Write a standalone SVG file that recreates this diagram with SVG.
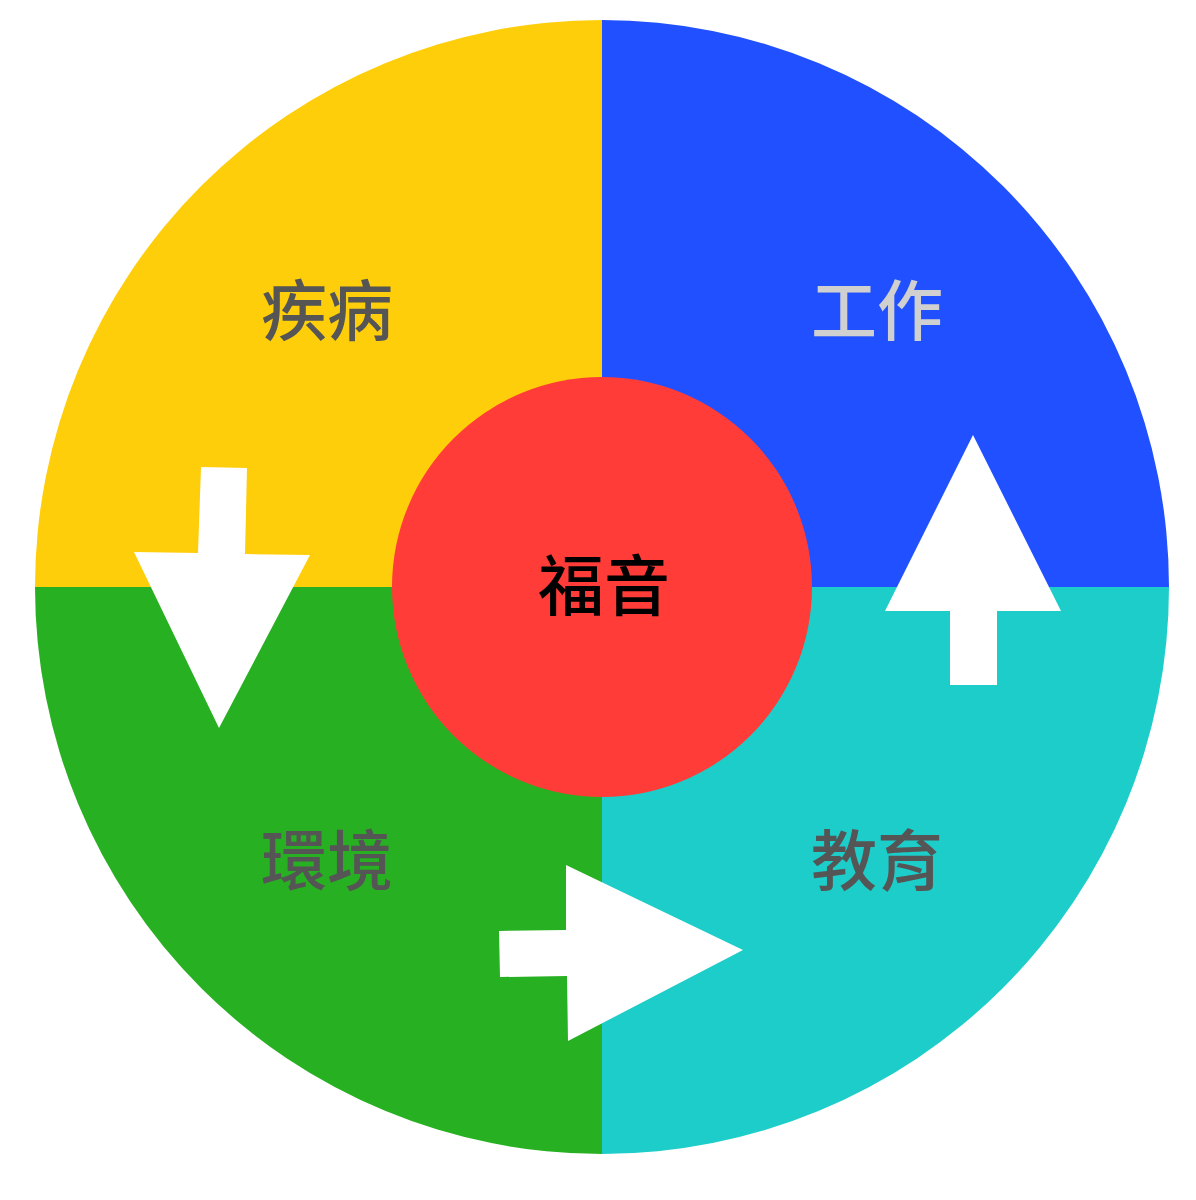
<svg xmlns="http://www.w3.org/2000/svg" width="1196" height="1200" viewBox="0 0 1196 1200">
<style>
.lbl{font-family:"Noto Sans CJK TC","Noto Sans CJK SC",sans-serif;font-size:66px;font-weight:500;text-anchor:middle;dominant-baseline:central}
.arrow{fill:#FFFFFF}
</style>
<rect width="1196" height="1200" fill="#FFFFFF"/>
<g id="q-illness"><path d="M602 587 L35 587 A567 567 0 0 1 602 20 Z" fill="#FECE0B"/><text class="lbl" x="327" y="306" fill="#555555">疾病</text></g>
<g id="q-work"><path d="M602 587 L602 20 A567 567 0 0 1 1169 587 Z" fill="#2050FF"/><text class="lbl" x="877" y="306" fill="#D0D0D0">工作</text></g>
<g id="q-education"><path d="M602 587 L1169 587 A567 567 0 0 1 602 1154 Z" fill="#1CCDCA"/><text class="lbl" x="877" y="856" fill="#555555">教育</text></g>
<g id="q-environment"><path d="M602 587 L602 1154 A567 567 0 0 1 35 587 Z" fill="#28B023"/><text class="lbl" x="327" y="856" fill="#555555">環境</text></g>
<g id="connectors">
<polygon class="arrow" points="201,467 247,468 245,554 310,555 219,728 134,552 198,553"/>
<polygon class="arrow" points="973,435 1061,611 997,611 997,685 950,685 950,611 885,611"/>
<polygon class="arrow" points="566,865 743,950 568,1041 567,976 500,977 499,931 566,930"/>
</g>
<g id="center"><circle cx="602" cy="587" r="210" fill="#FF3C38"/><text class="lbl" x="604" y="581" fill="#000000">福音</text></g>
</svg>
